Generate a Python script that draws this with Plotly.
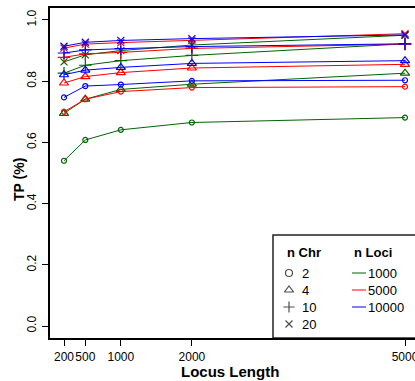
import plotly.graph_objects as go

# ---- data ----
locus_length = [200, 500, 1000, 2000, 5000]
x_tick_labels = ["200", "500", "1000", "2000", "5000"]
y_tick_vals = [0.0, 0.2, 0.4, 0.6, 0.8, 1.0]
y_tick_labels = ["0.0", "0.2", "0.4", "0.6", "0.8", "1.0"]

n_chr = [2, 4, 10, 20]
n_loci = [1000, 5000, 10000]

# TP values, loci = 1000
tp_l1000_c2 = [0.540, 0.608, 0.641, 0.665, 0.681]
tp_l1000_c4 = [0.695, 0.741, 0.773, 0.790, 0.826]
tp_l1000_c10 = [0.826, 0.852, 0.867, 0.884, 0.922]
tp_l1000_c20 = [0.863, 0.886, 0.900, 0.918, 0.950]
# loci = 5000
tp_l5000_c2 = [0.700, 0.741, 0.766, 0.779, 0.782]
tp_l5000_c4 = [0.794, 0.815, 0.828, 0.843, 0.855]
tp_l5000_c10 = [0.878, 0.889, 0.894, 0.907, 0.921]
tp_l5000_c20 = [0.908, 0.921, 0.926, 0.933, 0.955]
# loci = 10000
tp_l10000_c2 = [0.747, 0.784, 0.789, 0.801, 0.803]
tp_l10000_c4 = [0.821, 0.836, 0.845, 0.858, 0.867]
tp_l10000_c10 = [0.892, 0.902, 0.906, 0.913, 0.922]
tp_l10000_c20 = [0.914, 0.927, 0.933, 0.939, 0.951]

series = {
    1000: [tp_l1000_c2, tp_l1000_c4, tp_l1000_c10, tp_l1000_c20],
    5000: [tp_l5000_c2, tp_l5000_c4, tp_l5000_c10, tp_l5000_c20],
    10000: [tp_l10000_c2, tp_l10000_c4, tp_l10000_c10, tp_l10000_c20],
}

colors = {1000: "#006400", 5000: "#FF0000", 10000: "#0000FF"}
symbols = {2: "circle-open", 4: "triangle-up-open", 10: "cross-thin-open", 20: "x-thin-open"}
sizes = {2: 5, 4: 8, 10: 9, 20: 7}

FONT = "Liberation Sans, Arial, Helvetica, sans-serif"

fig = go.Figure()
for loci in n_loci:
    for chr_n, vals in zip(n_chr, series[loci]):
        c = colors[loci]
        fig.add_trace(go.Scatter(
            x=locus_length, y=vals, mode="lines+markers",
            line=dict(color=c, width=1),
            marker=dict(symbol=symbols[chr_n], size=sizes[chr_n], color=c,
                        line=dict(color=c, width=1.2)),
            xaxis="x", yaxis="y", showlegend=False, hoverinfo="skip",
            cliponaxis=False,
        ))

# ---- legend (drawn on an overlay axis in pixel units) ----
leg_sym_x = 289
leg_rows_y = [273, 290, 307, 324]
fig.add_trace(go.Scatter(
    x=[leg_sym_x] * 4, y=leg_rows_y, mode="markers",
    marker=dict(symbol=[symbols[c] for c in n_chr], size=[7, 8, 8, 7],
                color="black", line=dict(color="black", width=1.2)),
    xaxis="x2", yaxis="y2", showlegend=False, hoverinfo="skip",
))

shapes = [dict(type="rect", xref="x2", yref="y2", x0=273, x1=440, y0=235, y1=338,
               line=dict(color="#222222", width=1.5), fillcolor="rgba(0,0,0,0)", layer="above")]
for loci, yy in zip(n_loci, leg_rows_y[:3]):
    shapes.append(dict(type="line", xref="x2", yref="y2", x0=352, x1=366, y0=yy, y1=yy,
                       line=dict(color=colors[loci], width=1)))

annotations = [
    dict(text="<b>n Chr</b>", x=285, y=252),
    dict(text="<b>n Loci</b>", x=352, y=252),
]
for c, yy in zip(n_chr, leg_rows_y):
    annotations.append(dict(text=str(c), x=300, y=yy))
for loci, yy in zip(n_loci, leg_rows_y[:3]):
    annotations.append(dict(text=str(loci), x=366, y=yy))
for a in annotations:
    a.update(xref="x2", yref="y2", xanchor="left", yanchor="middle", showarrow=False,
             font=dict(family=FONT, size=13, color="black"))

# axis titles (paper coordinates)
annotations.append(dict(text="<b>Locus Length</b>", xref="paper", yref="paper",
                        x=(230 - 50) / 365, y=(338 - 371) / 330,
                        xanchor="center", yanchor="middle", showarrow=False,
                        font=dict(family=FONT, size=15, color="black")))
annotations.append(dict(text="<b>TP (%)</b>", xref="paper", yref="paper",
                        x=(19 - 50) / 365, y=(338 - 180) / 330, textangle=-90,
                        xanchor="center", yanchor="middle", showarrow=False,
                        font=dict(family=FONT, size=14, color="black")))

fig.update_layout(
    width=415, height=381,
    margin=dict(l=50, r=0, t=8, b=43, autoexpand=False),
    plot_bgcolor="white", paper_bgcolor="white",
    font=dict(family=FONT, size=12, color="black"),
    showlegend=False,
    shapes=shapes, annotations=annotations,
    xaxis=dict(range=[2.9, 5140.8], tickvals=locus_length, ticktext=x_tick_labels,
               tickangle=0, automargin=False, ticklabeloverflow="allow",
               ticks="outside", ticklen=6, tickwidth=1, tickcolor="black",
               showline=True, linecolor="black", linewidth=1.5, mirror=True,
               showgrid=False, zeroline=False, ticklabelstandoff=1),
    yaxis=dict(range=[-0.039, 1.039], tickvals=y_tick_vals, ticktext=y_tick_labels,
               tickangle=-90, automargin=False, ticklabeloverflow="allow",
               ticks="outside", ticklen=6, tickwidth=1, tickcolor="black",
               showline=True, linecolor="black", linewidth=1.5, mirror=False,
               showgrid=False, zeroline=False, ticklabelstandoff=1),
    xaxis2=dict(overlaying="x", range=[50, 415], visible=False, fixedrange=True),
    yaxis2=dict(overlaying="y", range=[338, 8], visible=False, fixedrange=True),
)

fig.write_html(
    "out.html",
    config={"displayModeBar": False},
    post_script="document.body.style.margin='0';document.body.style.overflow='hidden';",
)
